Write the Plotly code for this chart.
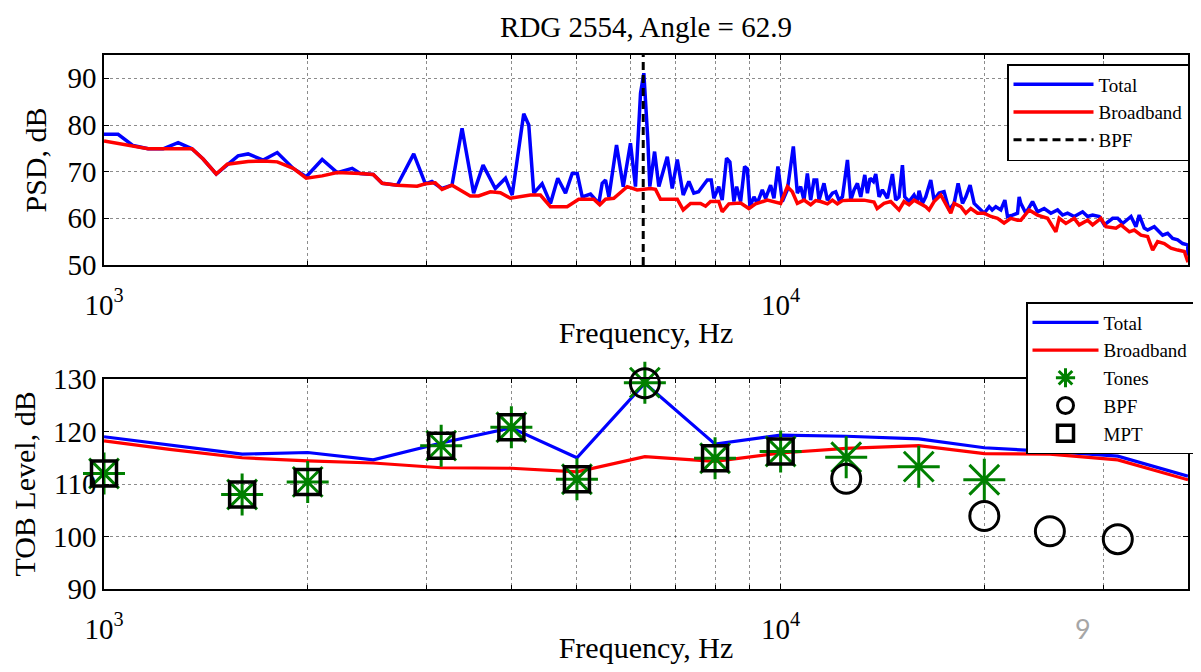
import math
import plotly.graph_objects as go

# ---------------- data ----------------
psd_total_freq = [1000, 1049, 1104, 1162, 1223, 1287, 1349, 1401, 1465, 1521, 1578, 1633, 1719, 1803, 1904, 1990,
                  2101, 2211, 2327, 2391, 2500, 2577, 2713, 2869, 2985, 3052, 3159, 3268, 3382, 3518, 3633, 3787,
                  3921, 4011, 4172, 4244, 4317, 4441, 4569, 4684, 4809, 4920, 5005, 5091, 5236, 5386, 5449, 5511,
                  5574, 5721, 5853, 5999, 6102, 6208, 6278, 6364, 6407, 6512, 6607, 6800, 6915, 7035, 7178, 7318,
                  7442, 7563, 7791, 7896, 7968, 8102, 8197, 8319, 8414, 8530, 8609, 8727, 8846, 8928, 9008, 9132,
                  9237, 9395, 9501, 9665, 9775, 9909, 10058, 10231, 10442, 10585, 10705, 10827, 10952, 11076, 11202,
                  11306, 11395, 11590, 11725, 11927, 12062, 12198, 12341, 12553, 12696, 12840, 12987, 13134, 13316,
                  13436, 13557, 13714, 13822, 13979, 14140, 14383, 14630, 14796, 14962, 15136, 15255, 15481, 15747,
                  15929, 16017, 16202, 16386, 16668, 16857, 17147, 17441, 17742, 18047, 18294, 18570, 18781, 19056,
                  19320, 19652, 19991, 20335, 20541, 20797, 21155, 21449, 21643, 22016, 22394, 22518, 22646, 23035,
                  23567, 23972, 24520, 25084, 25662, 26104, 26552, 27159, 27946, 28426, 28915, 29575, 30083, 30955,
                  31487, 32028, 32948, 33507, 33884, 34467, 34866, 35662, 36275, 36695, 37325, 37967, 38620, 39284,
                  39960, 40000]
psd_total_db = [78.0, 78.0, 75.6, 74.9, 74.9, 76.2, 74.9, 72.7, 69.5, 71.4, 73.4, 73.8, 72.5, 74.1, 70.7, 68.9,
                72.6, 69.8, 70.7, 69.6, 69.4, 67.5, 67.1, 73.8, 67.4, 67.9, 66.4, 67.1, 79.3, 65.4, 71.4, 66.4,
                68.6, 65.0, 82.4, 80.0, 65.4, 67.4, 63.2, 68.6, 65.4, 69.6, 69.6, 64.6, 65.2, 63.2, 67.5, 68.2,
                64.6, 75.7, 66.8, 76.1, 66.8, 86.8, 91.1, 76.8, 66.8, 74.3, 66.8, 73.2, 66.4, 72.6, 65.0, 67.9,
                65.4, 65.7, 68.2, 68.2, 64.3, 66.8, 63.9, 72.9, 72.1, 63.6, 66.8, 63.6, 71.1, 70.6, 62.5, 64.6,
                63.2, 66.1, 64.3, 67.1, 64.3, 71.1, 63.6, 66.1, 75.4, 65.4, 66.8, 63.9, 69.6, 63.9, 68.2,
                68.2, 63.9, 67.5, 63.9, 65.4, 65.7, 63.9, 64.6, 72.5, 63.9, 66.1, 67.5, 64.6, 69.3,
                65.4, 68.6, 67.9, 69.5, 64.6, 66.1, 64.3, 69.5, 63.9, 64.6, 71.4, 64.6, 63.6, 65.0,
                63.6, 65.9, 63.2, 64.6, 68.2, 63.9, 65.4, 65.7, 61.8, 63.2, 67.5, 63.2, 64.6, 67.1,
                63.2, 62.1, 61.1, 62.5, 61.8, 62.5, 61.8, 63.9, 60.4, 60.7, 61.1, 64.6, 63.2, 61.1,
                63.6, 61.4, 62.1, 61.1, 61.8, 60.7, 61.1, 60.4, 61.4, 60.4, 60.7, 60.4, 58.6, 60.0,
                60.0, 58.9, 60.4, 58.2, 60.7, 57.9, 57.5, 58.2, 57.1, 56.4, 56.8, 55.7, 55.4, 54.6,
                54.3, 52.0]

psd_broad_freq = [1000, 1049, 1104, 1162, 1287, 1349, 1401, 1465, 1521, 1633, 1719, 1803, 1904, 1990, 2101, 2211,
                  2391, 2500, 2577, 2713, 2902, 2985, 3088, 3159, 3268, 3478, 3578, 3724, 3853, 3987, 4268, 4415,
                  4569, 4836, 5030, 5294, 5404, 5511, 5668, 5933, 6138, 6422, 6533, 6645, 7035, 7178, 7360, 7615,
                  7746, 7878, 8102, 8197, 8385, 8727, 8977, 9183, 9556, 10000, 10231, 10406, 10585, 10827, 11076,
                  11266, 11460, 11725, 11927, 12131, 12341, 12618, 13282, 13741, 13889, 14218, 14545, 14796, 14962,
                  15220, 15481, 15747, 16109, 16386, 16573, 16857, 17245, 17541, 17843, 18047, 18464, 18781, 19101,
                  19542, 19991, 20451, 20919, 21393, 21885, 22394, 22646, 23297, 23972, 24803, 25516, 25804, 26400,
                  27159, 27626, 28426, 28915, 29740, 30254, 31307, 31842, 32765, 33314, 34082, 34866, 35467, 36075,
                  36899, 37747, 38620, 39503, 40000]
psd_broad_db = [76.6, 76.1, 75.6, 74.9, 74.9, 74.9, 72.7, 69.5, 71.6, 72.2, 72.3, 72.1, 70.7, 68.6, 69.1, 69.8,
                69.6, 69.4, 67.5, 67.1, 66.9, 67.4, 67.6, 66.2, 67.1, 64.8, 64.8, 65.7, 65.5, 64.3, 65.0, 65.0,
                62.5, 62.5, 64.1, 64.1, 62.9, 64.1, 64.3, 66.8, 66.1, 66.4, 66.2, 64.1, 64.1, 61.8, 63.2, 63.2,
                62.6, 63.6, 63.6, 61.4, 63.1, 63.3, 62.1, 63.1, 63.9, 63.2, 66.8, 65.7, 63.2, 63.9, 62.9,
                63.8, 63.6, 63.1, 63.9, 63.1, 63.8, 63.9, 63.9, 63.5, 62.1, 63.2, 63.6, 62.5, 61.8,
                63.6, 62.9, 63.9, 63.2, 62.5, 61.8, 63.6, 65.0, 63.2, 61.1, 63.2, 62.5, 61.1, 62.1,
                61.1, 61.1, 60.4, 60.0, 59.0, 60.0, 59.6, 59.6, 61.8, 60.7, 60.0, 57.1, 60.0, 58.9,
                60.0, 58.6, 59.6, 58.6, 60.0, 58.2, 57.9, 58.6, 57.1, 57.5, 56.4, 56.1, 53.2, 55.0,
                54.6, 53.6, 53.2, 52.9, 50.6]

bpf_freq = 6265

tob_freq = [1000, 1250, 1600, 2000, 2500, 3150, 4000, 5000, 6300, 8000, 10000, 12500, 16000, 20000, 25000, 31500, 40000]
tob_total = [119.0, 117.4, 115.7, 116.0, 114.6, 117.8, 120.7, 115.0, 129.2, 117.6, 119.3, 119.1, 118.6, 116.9, 116.2, 115.3, 111.5]
tob_broad = [118.2, 116.6, 115.0, 114.4, 114.0, 113.1, 113.0, 112.3, 115.2, 114.3, 115.9, 116.8, 117.3, 115.8, 115.7, 114.6, 110.8]

tone_freq = [1000, 1600, 2000, 3150, 4000, 5000, 6300, 8000, 10000, 12500, 16000, 20000]
tone_level = [112.0, 108.0, 110.4, 117.3, 120.8, 110.9, 129.3, 114.9, 116.2, 115.1, 113.3, 110.8]

bpf_tob_freq = [6300, 12500, 20000, 25000, 31500]
bpf_tob_level = [129.2, 111.0, 103.9, 101.0, 99.5]

mpt_freq = [1000, 1600, 2000, 3150, 4000, 5000, 8000, 10000]
mpt_level = [112.0, 108.0, 110.4, 117.3, 120.8, 110.9, 114.9, 116.2]

x_major_vals = [1000, 10000]
x_major_text = ["10<sup>3</sup>", "10<sup>4</sup>"]
x_minor_vals = [2000, 3000, 4000, 5000, 6000, 7000, 8000, 9000, 20000, 30000, 40000]
psd_ticks = [50, 60, 70, 80, 90]
tob_ticks = [90, 100, 110, 120, 130]
psd_range = [50, 95]
tob_range = [90, 130]

title_text = "RDG 2554, Angle = 62.9"

# ---------------- style ----------------
SERIF = "Liberation Serif"
BLUE = "rgb(0,0,255)"
RED = "rgb(255,0,0)"
GREEN = "rgb(0,128,0)"

# page body has an 8px margin: size the figure so the page fits the window exactly
OFF = 8
FIG_W, FIG_H = 1201 - 2 * OFF, 672 - 2 * OFF
PL, PR, PT, PB = 104 - OFF, 1188 - OFF, 55 - OFF, 589 - OFF   # plot area edges in figure px
PW, PH = PR - PL, PB - PT


def px_x(wx):
    return (wx - OFF - PL) / PW


def px_y(wy):
    return (PB - (wy - OFF)) / PH


fig = go.Figure()

# top: PSD
fig.add_trace(go.Scatter(x=psd_total_freq, y=psd_total_db, mode="lines", name="Total",
                         line=dict(color=BLUE, width=3.5), xaxis="x", yaxis="y", legend="legend"))
fig.add_trace(go.Scatter(x=psd_broad_freq, y=psd_broad_db, mode="lines", name="Broadband",
                         line=dict(color=RED, width=3.5), xaxis="x", yaxis="y", legend="legend"))
fig.add_trace(go.Scatter(x=[bpf_freq, bpf_freq], y=psd_range, mode="lines", name="BPF",
                         line=dict(color="black", width=3, dash="8px,5px"), xaxis="x", yaxis="y",
                         legend="legend"))

# bottom: TOB
fig.add_trace(go.Scatter(x=tob_freq, y=tob_total, mode="lines", name="Total",
                         line=dict(color=BLUE, width=3.2), xaxis="x2", yaxis="y2", legend="legend2"))
fig.add_trace(go.Scatter(x=tob_freq, y=tob_broad, mode="lines", name="Broadband",
                         line=dict(color=RED, width=3.2), xaxis="x2", yaxis="y2", legend="legend2"))
fig.add_trace(go.Scatter(x=tone_freq, y=tone_level, mode="markers", name="Tones", cliponaxis=False,
                         marker=dict(symbol="asterisk-open", size=35, color=GREEN,
                                     line=dict(color=GREEN, width=3)),
                         xaxis="x2", yaxis="y2", legend="legend2"))
fig.add_trace(go.Scatter(x=bpf_tob_freq, y=bpf_tob_level, mode="markers", name="BPF", cliponaxis=False,
                         marker=dict(symbol="circle-open", size=29, color="black",
                                     line=dict(color="black", width=3)),
                         xaxis="x2", yaxis="y2", legend="legend2"))
fig.add_trace(go.Scatter(x=mpt_freq, y=mpt_level, mode="markers", name="MPT", cliponaxis=False,
                         marker=dict(symbol="square-open", size=25, color="black",
                                     line=dict(color="black", width=3.5)),
                         xaxis="x2", yaxis="y2", legend="legend2"))

GRIDC = "rgba(0,0,0,0.45)"
common = dict(showgrid=True, gridcolor=GRIDC, griddash="dot", gridwidth=1,
              showline=True, linecolor="black", linewidth=1.5, mirror="ticks",
              ticks="inside", ticklen=5, tickcolor="black", zeroline=False, automargin=False,
              tickfont=dict(family=SERIF, size=29, color="black"))
xminor = dict(tickmode="array", tickvals=x_minor_vals, ticks="inside", ticklen=4, tickcolor="black",
              showgrid=True, gridcolor=GRIDC, griddash="dot", gridwidth=1)
title_font = dict(family=SERIF, size=30, color="black")

# tiny epsilon so the edge markers at 1 kHz count as inside the axis range
EPS = 1e-5
xr = [math.log10(psd_total_freq[0]) - EPS, math.log10(psd_total_freq[-1]) + EPS]
fig.update_layout(
    width=FIG_W, height=FIG_H,
    margin=dict(l=PL, r=FIG_W - PR, t=PT, b=FIG_H - PB, autoexpand=False),
    paper_bgcolor="white", plot_bgcolor="white",
    title=dict(text=title_text, x=(646 - OFF) / FIG_W, xanchor="center", y=1 - (27 - OFF) / FIG_H,
               yanchor="middle", font=dict(family=SERIF, size=29, color="black")),
    xaxis=dict(type="log", range=xr, domain=[0, 1], anchor="y", tickmode="array", tickvals=x_major_vals,
               ticktext=x_major_text, ticklabelstandoff=13, minor=xminor,
               title=dict(text="Frequency, Hz", standoff=2, font=title_font), **common),
    yaxis=dict(range=psd_range, domain=[px_y(265), 1], anchor="x", tickvals=psd_ticks,
               title=dict(text="PSD, dB", standoff=12, font=title_font), **common),
    xaxis2=dict(type="log", range=xr, domain=[0, 1], anchor="y2", tickmode="array", tickvals=x_major_vals,
                ticktext=x_major_text, ticklabelstandoff=13, minor=xminor,
                title=dict(text="Frequency, Hz", standoff=2, font=title_font), **common),
    yaxis2=dict(range=tob_range, domain=[0, px_y(379)], anchor="x2", tickvals=tob_ticks,
                title=dict(text="TOB Level, dB", standoff=9, font=title_font), **common),
    legend=dict(x=px_x(1007), y=px_y(64), xanchor="left", yanchor="top",
                bgcolor="white", bordercolor="black", borderwidth=1.5, itemwidth=80,
                font=dict(family=SERIF, size=19, color="black"), tracegroupgap=0),
    legend2=dict(x=px_x(1026), y=px_y(302), xanchor="left", yanchor="top",
                 bgcolor="white", bordercolor="black", borderwidth=1.5, itemwidth=66,
                 font=dict(family=SERIF, size=19, color="black"), tracegroupgap=0),
    annotations=[dict(text="9", xref="paper", yref="paper", x=px_x(1083), y=px_y(628),
                      xanchor="center", yanchor="middle", showarrow=False,
                      font=dict(family="Lato", size=27, color="#a6a6a6"))],
    showlegend=True,
)

fig.write_html("out.html")
